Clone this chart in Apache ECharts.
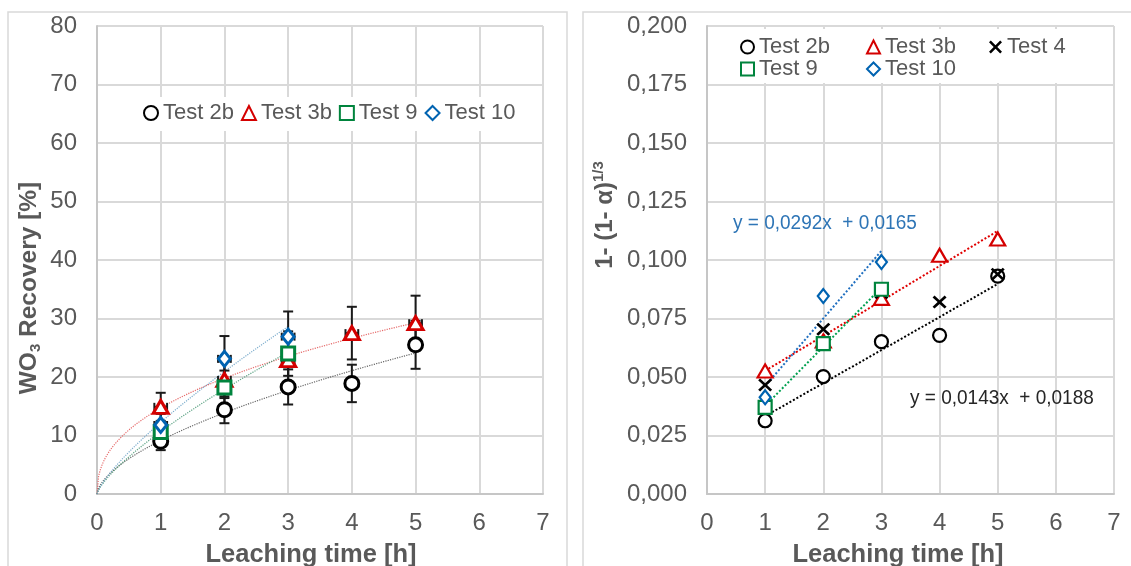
<!DOCTYPE html>
<html><head><meta charset="utf-8">
<script src="https://cdn.jsdelivr.net/npm/echarts@6/dist/echarts.min.js"></script>
<style>html,body{margin:0;padding:0;background:#fff}#c{width:1131px;height:566px}</style>
</head><body><div id="c"></div>
<script>
const FONT = '"Liberation Sans", Arial, sans-serif';
const TXT = '#595959';

// ---------- data ----------
const times = [1, 2, 3, 4, 5];
const seriesNames = ['Test 2b', 'Test 3b', 'Test 4', 'Test 9', 'Test 10'];

// Left panel: WO3 recovery [%]
const rec2b = [9.0, 14.4, 18.3, 18.9, 25.5];
const rec3b = [14.9, 19.5, 22.9, 27.5, 29.2];
const rec9  = [10.6, 18.2, 24.0];
const rec10 = [11.8, 23.1, 26.9];
// vertical error (+/-) for each point
const err2b = [1.5, 2.3, 3.0, 3.2, 4.1];
const err3b = [2.4, 3.1, 3.7, 4.5, 4.7];
const err9  = [1.7, 2.9, 3.8];
const err10 = [1.9, 3.9, 4.3];
const timeErr = 0.1; // horizontal error (+/- h)

// Right panel: 1-(1-alpha)^(1/3)
const sc2b = [0.0313, 0.0502, 0.0651, 0.0678, 0.0931];
const sc3b = [0.0526, 0.0654, 0.0836, 0.1020, 0.1090];
const sc4  = [0.0466, 0.0704, 0.0860, 0.0820, 0.0939];
const sc9  = [0.0370, 0.0643, 0.0875];
const sc10 = [0.0413, 0.0846, 0.0991];

const eqBlue = 'y = 0,0292x  + 0,0165';
const eqBlack = 'y = 0,0143x  + 0,0188';

// ---------- helpers ----------
const pts = arr => arr.map((v, i) => [times[i], v]);
function powerFit(arr) {
  const lx = arr.map((v, i) => Math.log(times[i])), ly = arr.map(v => Math.log(v));
  const n = arr.length, mx = lx.reduce((a, b) => a + b) / n, my = ly.reduce((a, b) => a + b) / n;
  let sxx = 0, sxy = 0;
  for (let i = 0; i < n; i++) { sxx += (lx[i] - mx) ** 2; sxy += (lx[i] - mx) * (ly[i] - my); }
  const b = sxy / sxx, a = Math.exp(my - b * mx);
  const out = [];
  const xmax = times[n - 1];
  for (let k = 0; k <= 200; k++) { const x = xmax * k / 200; out.push([x, x === 0 ? 0 : a * Math.pow(x, b)]); }
  return out;
}
function linFit(arr) {
  const n = arr.length, xs = times.slice(0, n);
  const mx = xs.reduce((a, b) => a + b) / n, my = arr.reduce((a, b) => a + b) / n;
  let sxx = 0, sxy = 0;
  for (let i = 0; i < n; i++) { sxx += (xs[i] - mx) ** 2; sxy += (xs[i] - mx) * (arr[i] - my); }
  const m = sxy / sxx, c = my - m * mx;
  return [[xs[0], m * xs[0] + c], [xs[n - 1], m * xs[n - 1] + c]];
}
const errData = [];
[[rec2b, err2b], [rec3b, err3b], [rec9, err9], [rec10, err10]].forEach(([v, e]) => {
  v.forEach((y, i) => errData.push([times[i], y, e[i], timeErr]));
});

const C = { k: '#000000', r: '#d40000', g: '#00843d', b: '#0063b1' };
const XPATH = 'path://M0,1.4L1.4,0L5,3.6L8.6,0L10,1.4L6.4,5L10,8.6L8.6,10L5,6.4L1.4,10L0,8.6L3.6,5Z';

function mk(name, sym, size, color, data, ax, bw, z) {
  return { name, type: 'scatter', xAxisIndex: ax, yAxisIndex: ax, symbol: sym, symbolSize: size,
    data, z: z || 5,
    itemStyle: sym === XPATH ? { color: color, borderWidth: 0, opacity: 1 } : { color: '#fff', borderColor: color, borderWidth: bw, opacity: 1 } };
}
function trend(name, data, color, ax, w, op) {
  return { name, type: 'line', xAxisIndex: ax, yAxisIndex: ax, data, symbol: 'none', silent: true, z: 3,
    lineStyle: { type: 'dotted', width: w, color, opacity: op } };
}

const axisLbl = { color: TXT, fontSize: 24, fontFamily: FONT };
const split = { show: true, lineStyle: { color: '#d9d9d9', width: 2 } };
const aLine = { show: true, lineStyle: { color: '#c6c6c6', width: 2 } };

const legendText = { color: TXT, fontSize: 22, fontFamily: FONT, lineHeight: 22 };

const chart = echarts.init(document.getElementById('c'), null, { renderer: 'canvas' });
chart.setOption({
  animation: false,
  backgroundColor: '#fff',
  grid: [
    { left: 97, top: 26, width: 446, height: 468 },
    { left: 707, top: 26, width: 407, height: 468 }
  ],
  xAxis: [
    { type: 'value', gridIndex: 0, min: 0, max: 7, interval: 1, axisLine: aLine, axisTick: { show: false }, splitLine: split, axisLabel: Object.assign({ margin: 17 }, axisLbl) },
    { type: 'value', gridIndex: 1, min: 0, max: 7, interval: 1, axisLine: aLine, axisTick: { show: false }, splitLine: split, axisLabel: Object.assign({ margin: 17 }, axisLbl) }
  ],
  yAxis: [
    { type: 'value', gridIndex: 0, min: 0, max: 80, interval: 10, axisLine: aLine, axisTick: { show: false }, splitLine: split, axisLabel: Object.assign({ margin: 20 }, axisLbl) },
    { type: 'value', gridIndex: 1, min: 0, max: 0.2, interval: 0.025, axisLine: aLine, axisTick: { show: false }, splitLine: split,
      axisLabel: Object.assign({ margin: 20, formatter: v => v.toFixed(3).replace('.', ',') }, axisLbl) }
  ],
  legend: [
    { data: ['Test 2b', 'Test 3b', 'Test 9', 'Test 10'], left: 143, top: 102, padding: 0, itemWidth: 14, itemHeight: 14, itemGap: 7, textStyle: legendText, selectedMode: false },
    { data: ['Test 2b', 'Test 9'], orient: 'vertical', left: 740, top: 36, padding: 0, itemWidth: 13, itemHeight: 13, itemGap: 0, textStyle: legendText, selectedMode: false },
    { data: ['Test 3b', 'Test 10'], orient: 'vertical', left: 866, top: 36, padding: 0, itemWidth: 13, itemHeight: 13, itemGap: 0, textStyle: legendText, selectedMode: false },
    { data: ['Test 4'], orient: 'vertical', left: 989, top: 36, padding: 0, itemWidth: 13, itemHeight: 13, itemGap: 0, textStyle: legendText, selectedMode: false }
  ],
  graphic: [
    { type: 'rect', z: 0, shape: { x: 8, y: 12, width: 559, height: 600 }, style: { fill: 'none', stroke: '#d9d9d9', lineWidth: 1.5 } },
    { type: 'rect', z: 0, shape: { x: 583, y: 12, width: 600, height: 600 }, style: { fill: 'none', stroke: '#d9d9d9', lineWidth: 1.5 } },
    { type: 'rect', z: 1, shape: { x: 135, y: 97, width: 395, height: 34 }, style: { fill: '#fff' } },
    { type: 'rect', z: 1, shape: { x: 712, y: 29, width: 396, height: 54 }, style: { fill: '#fff' } },
    { type: 'text', z: 6, x: 311, y: 555, style: { text: 'Leaching time [h]', font: 'bold 25.5px ' + FONT, fill: TXT, align: 'center', verticalAlign: 'middle' } },
    { type: 'text', z: 6, x: 898, y: 555, style: { text: 'Leaching time [h]', font: 'bold 25.5px ' + FONT, fill: TXT, align: 'center', verticalAlign: 'middle' } },
    { type: 'text', z: 6, x: 29, y: 288, rotation: Math.PI / 2,
      style: { text: '{b|WO}{s|3}{b| Recovery [%]}', align: 'center', verticalAlign: 'middle',
        rich: { b: { fontFamily: FONT, fontWeight: 'bold', fontSize: 24.5, lineHeight: 28, fill: TXT },
                s: { fontFamily: FONT, fontWeight: 'bold', fontSize: 15, lineHeight: 15, verticalAlign: 'bottom', fill: TXT } } } },
    { type: 'text', z: 6, x: 605, y: 215, rotation: Math.PI / 2,
      style: { text: '{b|1- (1- α)}{s|1/3}', align: 'center', verticalAlign: 'middle',
        rich: { b: { fontFamily: FONT, fontWeight: 'bold', fontSize: 24, lineHeight: 28, fill: TXT },
                s: { fontFamily: FONT, fontWeight: 'bold', fontSize: 15, lineHeight: 15, verticalAlign: 'top', fill: TXT } } } },
    { type: 'text', z: 6, x: 733, y: 223, scaleX: 0.95, style: { text: eqBlue, font: '20px ' + FONT, fill: '#2e75b6', align: 'left', verticalAlign: 'middle' } },
    { type: 'text', z: 6, x: 910, y: 398, scaleX: 0.95, style: { text: eqBlack, font: '20px ' + FONT, fill: '#262626', align: 'left', verticalAlign: 'middle' } }
  ],
  series: [
    // left trendlines (power fits)
    trend('fitL2b', powerFit(rec2b), '#555555', 0, 1.2, 0.9),
    trend('fitL3b', powerFit(rec3b), '#e35b5b', 0, 1.2, 0.9),
    trend('fitL9', powerFit(rec9), '#4d9a78', 0, 1.2, 0.9),
    trend('fitL10', powerFit(rec10), '#6fa4c8', 0, 1.2, 0.9),
    // error bars
    { name: 'err', type: 'custom', xAxisIndex: 0, yAxisIndex: 0, z: 4, silent: true, data: errData,
      encode: { x: 0, y: 1 },
      renderItem: (params, api) => {
        const x = api.value(0), y = api.value(1), e = api.value(2), ex = api.value(3);
        const t = api.coord([x, y + e]), b = api.coord([x, y - e]);
        const l = api.coord([x - ex, y]), r = api.coord([x + ex, y]);
        const cw = 5, ch = 4;
        const st = { stroke: '#1a1a1a', lineWidth: 2 };
        const L = (x1, y1, x2, y2) => ({ type: 'line', shape: { x1, y1, x2, y2 }, style: st });
        return { type: 'group', children: [
          L(t[0], t[1], b[0], b[1]), L(t[0] - cw, t[1], t[0] + cw, t[1]), L(b[0] - cw, b[1], b[0] + cw, b[1]),
          L(l[0], l[1], r[0], r[1]), L(l[0], l[1] - ch, l[0], l[1] + ch), L(r[0], r[1] - ch, r[0], r[1] + ch)
        ] };
      } },
    // left markers
    mk('Test 2b', 'circle', 14, C.k, pts(rec2b), 0, 3),
    mk('Test 3b', 'triangle', [15, 13], C.r, pts(rec3b), 0, 3),
    mk('Test 9', 'rect', 13, C.g, pts(rec9), 0, 3),
    mk('Test 10', 'diamond', [12, 15], C.b, pts(rec10), 0, 3),
    // right trendlines (linear fits)
    trend('fitR2b', linFit(sc2b), '#000000', 1, 2, 1),
    trend('fitR3b', linFit(sc3b), '#e00000', 1, 2, 1),
    trend('fitR9', linFit(sc9), '#00a050', 1, 2, 1),
    trend('fitR10', linFit(sc10), '#1f6fc0', 1, 2, 1),
    // right markers
    mk('Test 2b', 'circle', 13, C.k, pts(sc2b), 1, 2.2),
    mk('Test 3b', 'triangle', [15, 13], C.r, pts(sc3b), 1, 2.2),
    mk('Test 4', XPATH, [14, 13], C.k, pts(sc4), 1, 0),
    mk('Test 9', 'rect', 13, C.g, pts(sc9), 1, 2.2),
    mk('Test 10', 'diamond', [11, 14], C.b, pts(sc10), 1, 2.2)
  ]
});
</script>
</body></html>
